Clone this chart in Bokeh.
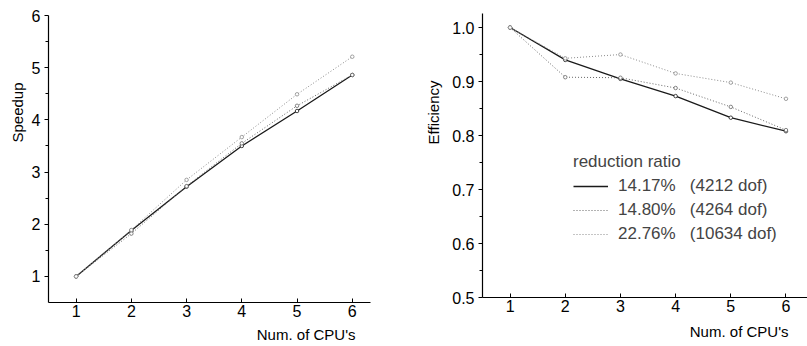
from bokeh.plotting import figure
from bokeh.layouts import row
from bokeh.models import (Range1d, Legend, LegendItem, FixedTicker, Title,
                          PrintfTickFormatter)
from bokeh.embed import file_html
from bokeh.resources import INLINE

cpus = [1, 2, 3, 4, 5, 6]
speedup_1417 = [1.0, 1.88, 2.72, 3.50, 4.17, 4.86]
speedup_1480 = [1.0, 1.82, 2.73, 3.55, 4.27, 4.86]
speedup_2276 = [1.0, 1.89, 2.85, 3.67, 4.49, 5.21]
eff_1417 = [1.0, 0.940, 0.905, 0.873, 0.833, 0.808]
eff_1480 = [1.0, 0.908, 0.907, 0.888, 0.853, 0.810]
eff_2276 = [1.0, 0.943, 0.950, 0.915, 0.898, 0.868]
labels = ["14.17%   (4212 dof)", "14.80%   (4264 dof)", "22.76%   (10634 dof)"]
legend_title = "reduction ratio"
x_label = "Num. of CPU's"
speed_label = "Speedup"
eff_label = "Efficiency"
x_ticks = [1, 2, 3, 4, 5, 6]
speed_ticks = [1, 2, 3, 4, 5, 6]
eff_ticks = [0.5, 0.6, 0.7, 0.8, 0.9, 1.0]

FONT = "Liberation Sans"
styles = [
    dict(color="#1a1a1a", line_width=1.3, line_dash="solid"),
    dict(color="#666666", line_width=1.0, line_dash="1 2"),
    dict(color="#8a8a8a", line_width=1.0, line_dash="1 2"),
]


def style_axes(p, yticks, fmt=None):
    p.grid.visible = False
    p.outline_line_color = None
    p.background_fill_color = "white"
    p.border_fill_color = "white"
    for ax in (p.xaxis[0], p.yaxis[0]):
        ax.axis_line_color = "black"
        ax.axis_line_width = 1.2
        ax.major_tick_line_color = "black"
        ax.minor_tick_line_color = "black"
        ax.major_label_text_font = FONT
        ax.major_label_text_font_size = "16px"
        ax.major_label_text_line_height = 1.0
        ax.major_label_text_color = "black"
    p.xaxis[0].ticker = FixedTicker(ticks=x_ticks)
    p.xaxis[0].major_tick_in = 4
    p.xaxis[0].major_tick_out = 0
    p.xaxis[0].minor_tick_in = 0
    p.xaxis[0].minor_tick_out = 0
    p.xaxis[0].major_label_standoff = 2
    minors = [(a + b) / 2 for a, b in zip(yticks[:-1], yticks[1:])]
    p.yaxis[0].ticker = FixedTicker(ticks=yticks, minor_ticks=minors)
    p.yaxis[0].major_tick_in = 0
    p.yaxis[0].major_tick_out = 4
    p.yaxis[0].minor_tick_in = 0
    p.yaxis[0].minor_tick_out = 3
    p.yaxis[0].major_label_standoff = 4
    if fmt:
        p.yaxis[0].formatter = fmt


def add_title(p, text, where, align, offset, standoff):
    p.add_layout(Title(text=text, align=align, offset=offset, standoff=standoff,
                       text_line_height=1.0,
                       text_font=FONT, text_font_size="15px",
                       text_font_style="normal", text_color="black"), where)


# ---- Left: speedup ----
p1 = figure(width=400, height=346, output_backend="svg", toolbar_location=None,
            x_range=Range1d(0.5, 6.33), y_range=Range1d(0.5, 6.0),
            min_border_left=48, min_border_right=30, min_border_top=15,
            min_border_bottom=44, frame_align=False)
style_axes(p1, speed_ticks)
for ys, st in zip([speedup_1417, speedup_1480, speedup_2276], styles):
    p1.line(cpus, ys, **st)
    p1.scatter(cpus, ys, size=3.5, marker="circle", line_color=st["color"],
               fill_color="white", line_width=0.8)
add_title(p1, x_label, "below", "right", 15, 8)
add_title(p1, speed_label, "left", "right", 67, 6)

# ---- Right: efficiency ----
p2 = figure(width=407, height=346, output_backend="svg", toolbar_location=None,
            x_range=Range1d(0.5, 6.39), y_range=Range1d(0.5, 1.026),
            min_border_left=82, min_border_right=0, min_border_top=13,
            min_border_bottom=48, frame_align=False)
style_axes(p2, eff_ticks, PrintfTickFormatter(format="%.1f"))
items = []
for ys, st, lab in zip([eff_1417, eff_1480, eff_2276], styles, labels):
    r = p2.line(cpus, ys, **st)
    p2.scatter(cpus, ys, size=3.5, marker="circle", line_color=st["color"],
               fill_color="white", line_width=0.8)
    items.append(LegendItem(label=lab, renderers=[r]))
add_title(p2, x_label, "below", "right", 19, 13)
add_title(p2, eff_label, "left", "right", 67, 15)

leg = Legend(items=items, location=(91, 51), title=legend_title,
             title_text_font=FONT, title_text_font_size="17px",
             title_text_font_style="normal", title_standoff=2,
             label_text_font=FONT, label_text_font_size="17px",
             glyph_width=35, glyph_height=24, label_height=24,
             label_standoff=10, spacing=0, padding=0, margin=0,
             border_line_color=None, background_fill_alpha=0)
p2.add_layout(leg)

layout = row(p1, p2)
open("out.html", "w").write(file_html(layout, INLINE))
